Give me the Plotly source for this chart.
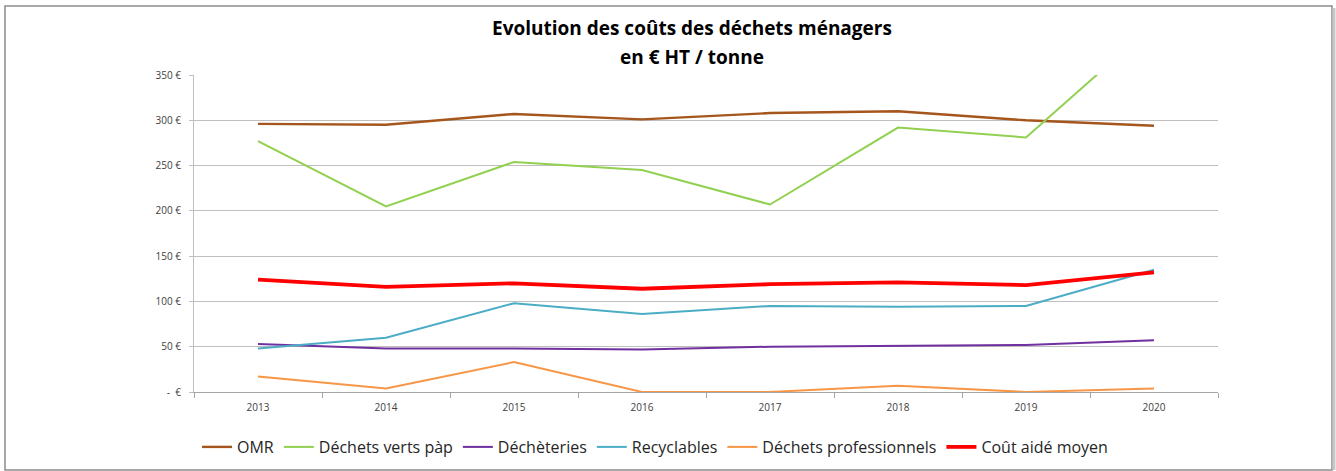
import plotly.graph_objects as go

# Years on the category axis
years = ["2013", "2014", "2015", "2016", "2017", "2018", "2019", "2020"]

# Cost per tonne (€ HT) for each waste stream
omr = [296, 295, 307, 301, 308, 310, 300, 294]
dechets_verts = [277, 205, 254, 245, 207, 292, 281, 406]
decheteries = [53, 48, 48, 47, 50, 51, 52, 57]
recyclables = [48, 60, 98, 86, 95, 94, 95, 135]
dechets_pro = [17, 4, 33, 0, 0, 7, 0, 4]
cout_aide = [124, 116, 120, 114, 119, 121, 118, 132]

# Y axis ticks
y_ticks = [0, 50, 100, 150, 200, 250, 300, 350]
y_tick_labels = ["-  €", "50 €", "100 €", "150 €", "200 €", "250 €", "300 €", "350 €"]

series = [
    ("OMR", omr, "#a5561d", 2.4),
    ("Déchets verts pàp", dechets_verts, "#92d050", 2.0),
    ("Déchèteries", decheteries, "#7030a0", 2.0),
    ("Recyclables", recyclables, "#4bacc6", 2.0),
    ("Déchets professionnels", dechets_pro, "#f79646", 2.0),
    ("Coût aidé moyen", cout_aide, "#ff0000", 3.8),
]

fig = go.Figure()
for name, vals, color, width in series:
    fig.add_trace(go.Scatter(
        x=years, y=vals, name=name, mode="lines",
        line=dict(color=color, width=width),
    ))

W, H = 1336, 471
L, R, T, B = 194, 118, 75, 79
pw, ph = W - L - R, H - T - B


def px_x(x):
    return (x - L) / pw


def px_y(y):
    return (H - B - y) / ph


fig.update_layout(
    width=W, height=H,
    margin=dict(l=L, r=R, t=T, b=B, autoexpand=False),
    paper_bgcolor="white",
    plot_bgcolor="white",
    font=dict(family="Open Sans, sans-serif", color="#404040"),
    showlegend=True,
    legend=dict(
        orientation="h",
        x=px_x(655), xanchor="center",
        y=px_y(447), yanchor="middle",
        font=dict(size=16, color="#262626"),
        itemwidth=30,
        tracegroupgap=0,
    ),
    xaxis=dict(
        type="category",
        tickson="boundaries",
        ticks="outside", ticklen=5, tickcolor="#a6a6a6",
        showline=True, linecolor="#a6a6a6", linewidth=1,
        showgrid=False,
        tickfont=dict(size=10, color="#404040"),
        ticklabelstandoff=6,
        range=[-0.5, 7.5],
    ),
    yaxis=dict(
        range=[0, 350],
        tickvals=y_ticks, ticktext=y_tick_labels,
        ticks="outside", ticklen=4, tickcolor="#bfbfbf",
        showline=True, linecolor="#bfbfbf", linewidth=1,
        showgrid=True, gridcolor="#bfbfbf", gridwidth=1,
        zeroline=False,
        tickfont=dict(size=10, color="#404040"),
        ticklabelstandoff=6,
    ),
    annotations=[
        dict(text="<b>Evolution des coûts des déchets ménagers</b>",
             xref="paper", yref="paper", x=px_x(692), y=px_y(28),
             xanchor="center", yanchor="middle", showarrow=False,
             font=dict(size=19, color="#000000")),
        dict(text="<b>en € HT / tonne</b>",
             xref="paper", yref="paper", x=px_x(692), y=px_y(57),
             xanchor="center", yanchor="middle", showarrow=False,
             font=dict(size=19, color="#000000")),
    ],
    shapes=[
        # outer chart frame
        dict(type="rect", xref="paper", yref="paper",
             x0=px_x(5), x1=px_x(1332), y0=px_y(470), y1=px_y(6),
             line=dict(color="#8c8c8c", width=1.5), layer="below"),
        # soft shadow on the right edge
        dict(type="line", xref="paper", yref="paper",
             x0=px_x(1334), x1=px_x(1334), y0=px_y(470), y1=px_y(8),
             line=dict(color="#c8c8c8", width=3), layer="below"),
    ],
)

fig.write_html("out.html")
